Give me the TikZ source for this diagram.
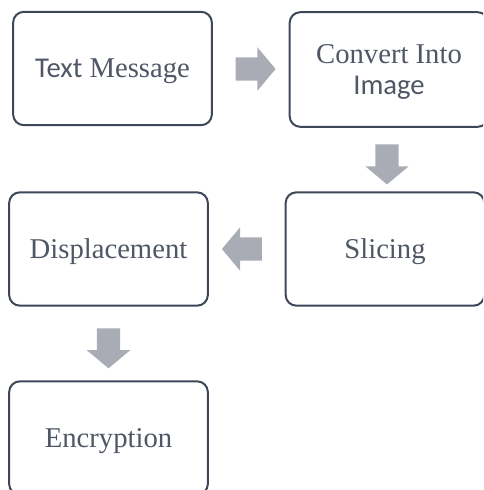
\documentclass[tikz,border=0pt]{standalone}
\usepackage{fontspec}
\setmainfont{Liberation Serif}
\newfontfamily\calib{Carlito}
\usetikzlibrary{shapes.arrows,calc}
\definecolor{boxline}{HTML}{3E4757}
\definecolor{boxtext}{HTML}{4F5665}
\definecolor{arrowgrey}{HTML}{A9ACB4}
\tikzset{
  stepbox/.style={draw=boxline, line width=1.5pt, rounded corners=8pt,
    minimum width=149pt, minimum height=85pt, align=center, text depth=0pt,
    text=boxtext, font=\fontsize{21.5}{25}\selectfont},
  fatarrow/.style={single arrow, fill=arrowgrey, draw=none,
    inner sep=8.5pt, minimum height=30pt,
    single arrow head extend=7.5pt, single arrow head indent=0pt,
    single arrow tip angle=100, shape border rotate=#1}
}
\begin{document}
\begin{tikzpicture}[x=0.75pt,y=-0.75pt]
            \useasboundingbox (0,0) rectangle (483,490);
            \clip (0,0) rectangle (483,490);

            % boxes
            \node[stepbox] (msg) at (112.5,68.5) {{\calib Text} Message};
            \node[stepbox, minimum height=86pt] (conv) at (389,69.5) {Convert Into\\[-2pt]{\calib Image}};
            \node[stepbox] (slice) at (385,249) {Slicing};
            \node[stepbox] (disp) at (108.5,249) {Displacement};
            \node[stepbox] (enc) at (108.5,438) {Encryption};

            % block arrows between the boxes
            \node[fatarrow=0] (a1) at ($(msg.east)!0.5!(conv.west)$) {};
            \node[fatarrow=270] (a2) at ($(conv.south)!0.5!(slice.north)$) {};
            \node[fatarrow=180] (a3) at ($(slice.west)!0.5!(disp.east)$) {};
            \node[fatarrow=270] (a4) at ($(disp.south)!0.5!(enc.north)$) {};
\end{tikzpicture}
\end{document}
